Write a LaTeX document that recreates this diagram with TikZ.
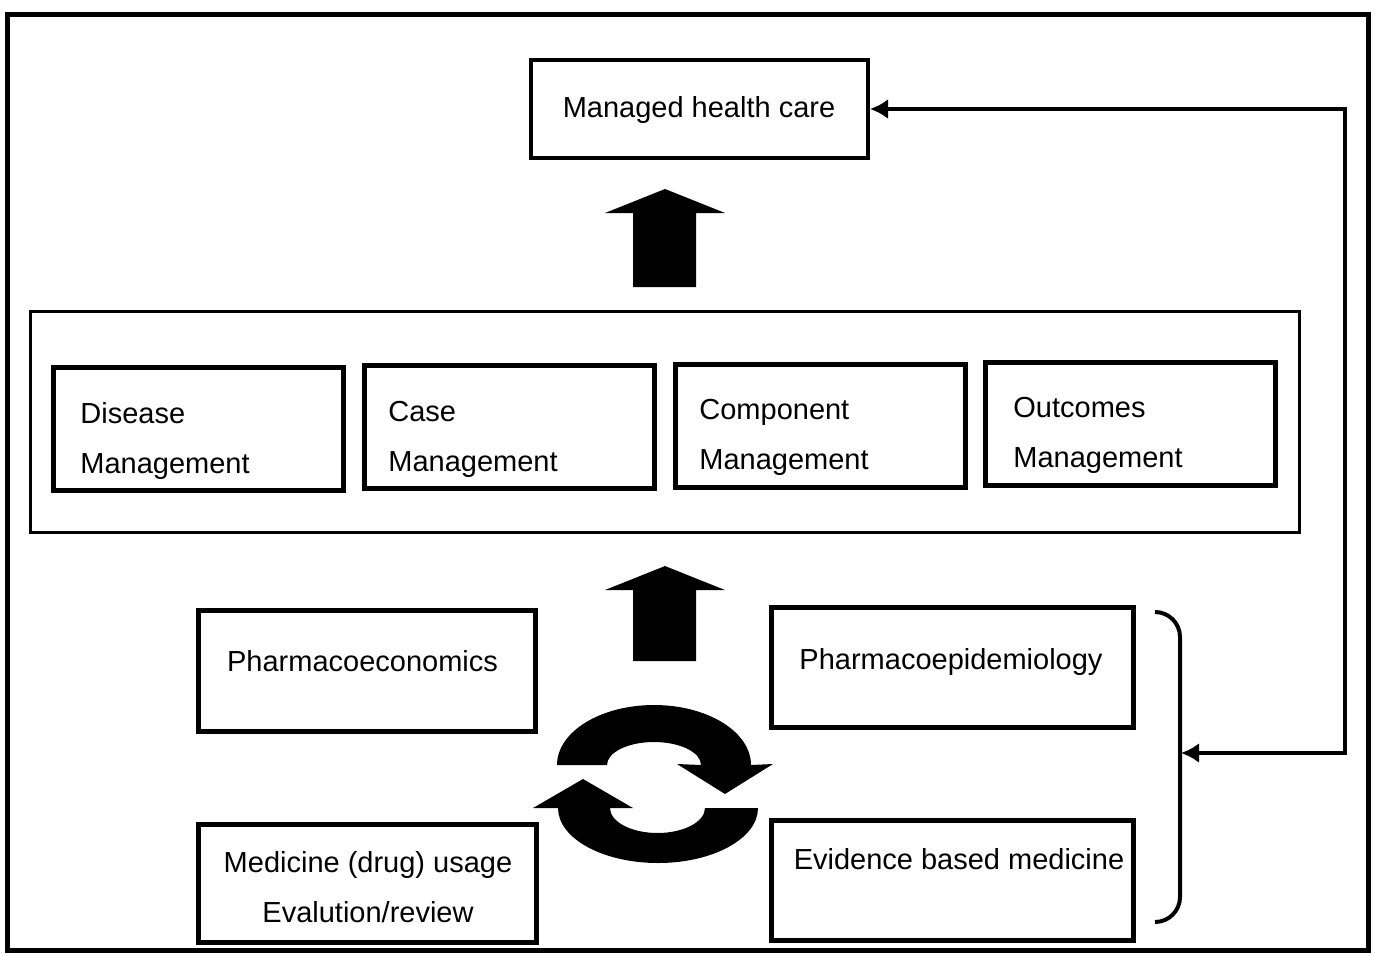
\documentclass[tikz,border=0pt]{standalone}
\usepackage{fontspec}
\setmainfont{Liberation Sans}
\usetikzlibrary{arrows.meta}
\usetikzlibrary{calc}

\begin{document}
\begin{tikzpicture}[x=0.5pt, y=-0.5pt,
  font=\fontsize{14.5}{25}\selectfont,
  box/.style={rectangle, draw=black, line width=2.5pt, inner sep=0pt},
  mgmtbox/.style={box, minimum width=145pt, minimum height=61.5pt},
  lbl/.style={inner sep=0pt, text height=10.5pt, text depth=3pt},
  lbltwo/.style={inner sep=0pt, align=left},
  fb/.style={draw=black, line width=2pt, {Latex[length=9pt,width=10pt]}-{Latex[length=9pt,width=10pt]}}]

\useasboundingbox (0,0) rectangle (1375,953);
\draw [line width=2.5pt] (7,14) rectangle (1368,950);

% managed health care
\node [box, line width=2pt, minimum width=168.5pt, minimum height=49pt] (MHC) at (699.5,109) {};
\node [lbl] (MHCt) at (699,110) {Managed health care};
\fill (665,189) -- (725,213) -- (696,213) -- (696,287) -- (633,287) -- (633,213) -- (605,213) -- cycle;

% management row
\node [box, line width=1.5pt, minimum width=634.5pt, minimum height=110.5pt] (MG) at (664.5,421.5) {};
\node [mgmtbox] (DM) at (198,428.5) {};
\node [mgmtbox] (CM) at (509,427) {};
\node [mgmtbox] (CoM) at (820,425.5) {};
\node [mgmtbox] (OM) at (1130.5,423.5) {};
\node [lbltwo, anchor=west] (DMt) at (80,441) {Disease\\Management};
\node [lbltwo, anchor=west] (CMt) at (388,439.5) {Case\\Management};
\node [lbltwo, anchor=west] (CoMt) at (699,437) {Component\\Management};
\node [lbltwo, anchor=west] (OMt) at (1013,435) {Outcomes\\Management};
\fill (665,566) -- (725,590) -- (696,590) -- (696,661) -- (633,661) -- (633,590) -- (605,590) -- cycle;

% lower boxes
\node [box, minimum width=168.5pt, minimum height=60.5pt] (PE) at (366.5,670.5) {};
\node [lbl] (PEt) at (362.5,664) {Pharmacoeconomics};
\node [box, minimum width=181pt, minimum height=60pt] (PEP) at (952,667) {};
\node [lbl] (PEPt) at (951,662) {Pharmacoepidemiology};
\node [box, minimum width=169pt, minimum height=59pt] (MU) at (367,883) {};
\node [lbltwo, align=center] (MUt) at (368,887.5) {Medicine (drug) usage\\Evalution/review};
\node [box, minimum width=181pt, minimum height=60pt] (EBM) at (952,880) {};
\node [lbl] (EBMt) at (959,862) {Evidence based medicine};

% cycle arrows
\fill (557,765) arc[start angle=180, end angle=360, x radius=97, y radius=60] -- (773,764) -- (725,794) -- (677,764) -- (701,765) arc[start angle=0, end angle=-180, x radius=47, y radius=23] -- cycle;
\fill (758,808) arc[start angle=0, end angle=180, x radius=100, y radius=55] -- (533,808) -- (583,779) -- (633,808) -- (610,808) arc[start angle=180, end angle=0, x radius=47.5, y radius=25] -- cycle;

% bracket and feedback
\draw [line width=2pt] (1155,612) arc[start angle=-90, end angle=0, radius=25] -- (1180,897) arc[start angle=0, end angle=90, radius=25];
\coordinate (BR) at (1181,753);
\draw [fb] (BR) -- (1345,753) |- (MHC.east);
\end{tikzpicture}
\end{document}
